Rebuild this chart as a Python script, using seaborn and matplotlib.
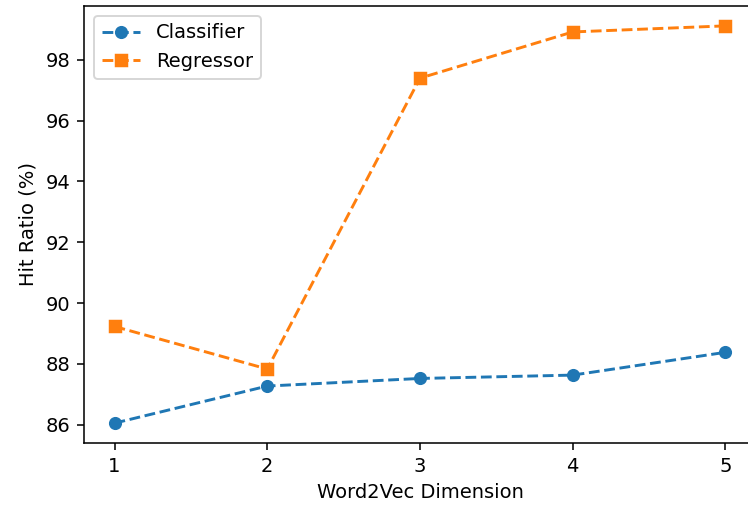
import matplotlib
matplotlib.use("Agg")
import matplotlib.pyplot as plt
import seaborn as sns
import pandas as pd

dims = [1, 2, 3, 4, 5]
classifier = [86.05, 87.27, 87.52, 87.63, 88.38]
regressor = [89.23, 87.83, 97.40, 98.92, 99.12]

df = pd.DataFrame({"dim": dims, "Classifier": classifier, "Regressor": regressor})

DPI = 140
fig = plt.figure(figsize=(748 / DPI, 508 / DPI), dpi=DPI)
ax = fig.add_axes([84 / 748, (508 - 443) / 508, (756 - 84) / 748, (443 - 6) / 508])

sns.lineplot(data=df, x="dim", y="Classifier", ax=ax, marker="o", linestyle="--",
             color="#1f77b4", label="Classifier", markeredgecolor="#1f77b4")
sns.lineplot(data=df, x="dim", y="Regressor", ax=ax, marker="s", linestyle="--",
             color="#ff7f0e", label="Regressor", markeredgecolor="#ff7f0e")

ax.set_xticks(dims)
ax.set_xlabel("Word2Vec Dimension")
ax.set_ylabel("Hit Ratio (%)")
ax.legend(loc="upper left")

fig.savefig("out.png", dpi=DPI)
